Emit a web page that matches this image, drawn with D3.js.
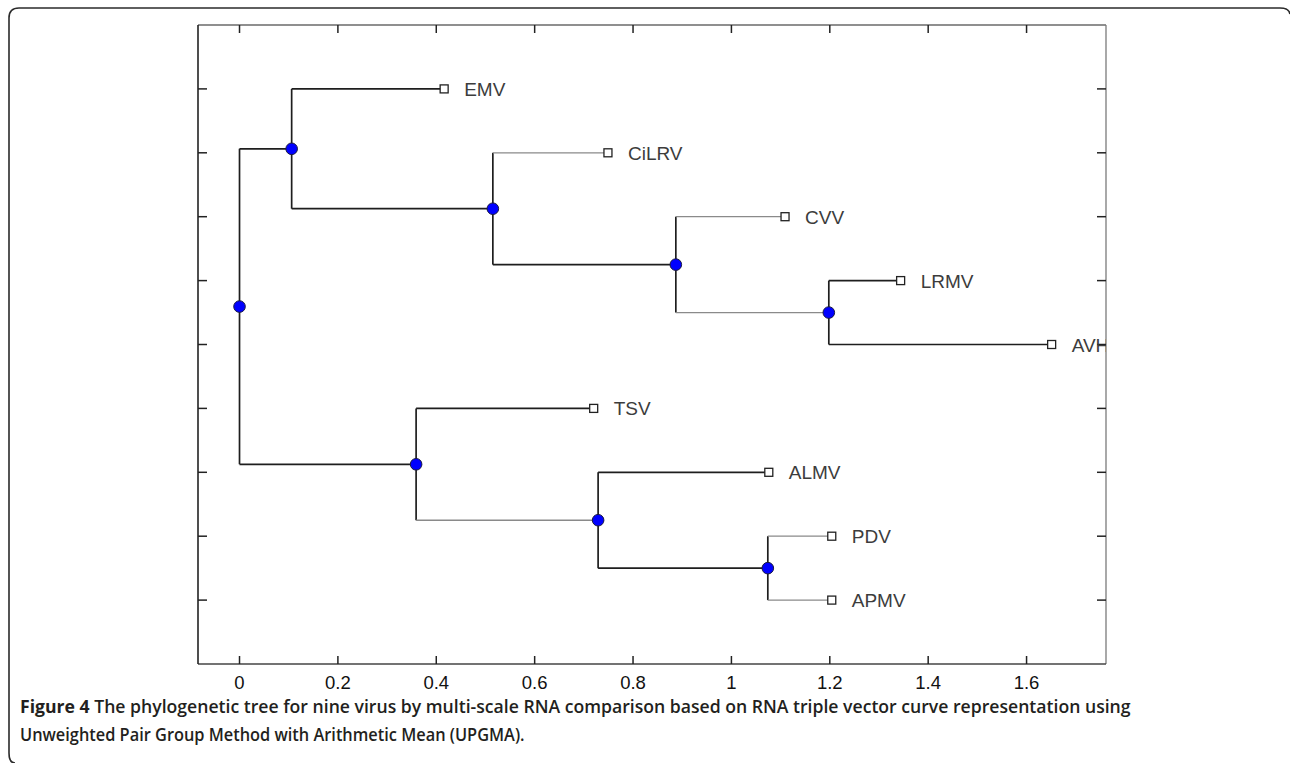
<!DOCTYPE html>
<html>
<head>
<meta charset="utf-8">
<script src="https://cdn.jsdelivr.net/npm/d3@7"></script>
<style>
  html, body { margin: 0; padding: 0; background: #fff; }
  svg { display: block; }
</style>
</head>
<body>
<svg id="fig" width="1290" height="763"></svg>
<script>
// Leaves of the UPGMA tree, listed top to bottom, with their distance from the root
const leafNames = ['EMV', 'CiLRV', 'CVV', 'LRMV', 'AVH', 'TSV', 'ALMV', 'PDV', 'APMV'];
const leafDist  = [0.416, 0.749, 1.109, 1.344, 1.651, 0.720, 1.076, 1.204, 1.204];

// Cluster merges: each joins two members at the given distance
const mergeNames = ['c1', 'c2', 'c3', 'c4', 'c5', 'c6', 'c7', 'c8'];
const mergeLeft  = ['LRMV', 'PDV', 'CVV', 'ALMV', 'CiLRV', 'TSV', 'EMV', 'c7'];
const mergeRight = ['AVH', 'APMV', 'c1', 'c2', 'c3', 'c4', 'c5', 'c6'];
const mergeDist  = [1.198, 1.074, 0.887, 0.729, 0.515, 0.359, 0.106, 0.000];

// Axis ticks
const xTicks = [0, 0.2, 0.4, 0.6, 0.8, 1, 1.2, 1.4, 1.6];
const xTickLabels = ['0', '0.2', '0.4', '0.6', '0.8', '1', '1.2', '1.4', '1.6'];
const yTicks = [1, 2, 3, 4, 5, 6, 7, 8, 9];

// Caption
const captionLead = 'Figure 4';
const captionLine1 = ' The phylogenetic tree for nine virus by multi-scale RNA comparison based on RNA triple vector curve representation using';
const captionLine2 = 'Unweighted Pair Group Method with Arithmetic Mean (UPGMA).';

const svg = d3.select('#fig');

// Plot box
const plot = { left: 198, right: 1106, top: 25, bottom: 664 };
const x = d3.scaleLinear().domain([-0.0844, 1.7615]).range([plot.left, plot.right]);
const y = d3.scaleLinear().domain([0, 10]).range([plot.top, plot.bottom]);

// Figure frame (rounded top-left box edge)
svg.append('path')
  .attr('d', 'M 15 763 Q 9 763 9 753 L 9 18 Q 9 8 19 8 L 1280 8 Q 1289 8 1290 14')
  .attr('fill', 'none')
  .attr('stroke', '#2b2b2b')
  .attr('stroke-width', 1.6);

// Positions of leaves and clusters
const pos = {};
leafNames.forEach((n, i) => { pos[n] = { d: leafDist[i], row: i + 1 }; });
mergeNames.forEach((n, i) => {
  const a = pos[mergeLeft[i]], b = pos[mergeRight[i]];
  pos[n] = { d: mergeDist[i], row: (a.row + b.row) / 2 };
});

// Branches drawn light/thin in this rendering
const faintBranches = new Set(['CiLRV', 'CVV', 'c1', 'c4', 'PDV', 'APMV']);
const darkStroke = '#1e1e1e', faintStroke = '#8a8a8a';

const gTree = svg.append('g');
mergeNames.forEach((n, i) => {
  const p = pos[n];
  const kids = [mergeLeft[i], mergeRight[i]];
  // vertical connector
  gTree.append('line')
    .attr('x1', x(p.d)).attr('x2', x(p.d))
    .attr('y1', y(pos[kids[0]].row)).attr('y2', y(pos[kids[1]].row))
    .attr('stroke', darkStroke).attr('stroke-width', 1.7);
  // horizontal branches to children
  kids.forEach(k => {
    const faint = faintBranches.has(k);
    gTree.append('line')
      .attr('x1', x(p.d)).attr('x2', x(pos[k].d))
      .attr('y1', y(pos[k].row)).attr('y2', y(pos[k].row))
      .attr('stroke', faint ? faintStroke : darkStroke)
      .attr('stroke-width', faint ? 1.3 : 1.7);
  });
});

// Plot box edges
const frame = svg.append('g').attr('fill', 'none');
frame.append('line').attr('x1', plot.left).attr('x2', plot.right).attr('y1', plot.top).attr('y2', plot.top)
  .attr('stroke', '#6a6a6a').attr('stroke-width', 1.3);
frame.append('line').attr('x1', plot.right).attr('x2', plot.right).attr('y1', plot.top).attr('y2', plot.bottom)
  .attr('stroke', '#7a7a7a').attr('stroke-width', 1.3);
frame.append('line').attr('x1', plot.left).attr('x2', plot.right).attr('y1', plot.bottom).attr('y2', plot.bottom)
  .attr('stroke', '#444').attr('stroke-width', 1.4);
frame.append('line').attr('x1', plot.left).attr('x2', plot.left).attr('y1', plot.top).attr('y2', plot.bottom)
  .attr('stroke', '#222').attr('stroke-width', 1.6);

// Ticks on all four sides (inward)
const tickLen = 8;
const ticks = svg.append('g').attr('stroke', '#222').attr('stroke-width', 1.5);
xTicks.forEach(t => {
  ticks.append('line').attr('x1', x(t)).attr('x2', x(t)).attr('y1', plot.bottom).attr('y2', plot.bottom - tickLen);
  ticks.append('line').attr('x1', x(t)).attr('x2', x(t)).attr('y1', plot.top).attr('y2', plot.top + tickLen);
});
yTicks.forEach(t => {
  ticks.append('line').attr('x1', plot.left).attr('x2', plot.left + tickLen + 1).attr('y1', y(t)).attr('y2', y(t));
  ticks.append('line').attr('x1', plot.right).attr('x2', plot.right - tickLen - 1).attr('y1', y(t)).attr('y2', y(t));
});

// Bottom tick labels
svg.append('g').selectAll('text').data(xTicks).join('text')
  .attr('x', d => x(d)).attr('y', 689)
  .attr('text-anchor', 'middle')
  .attr('font-family', '"Liberation Sans", Arial, sans-serif')
  .attr('font-size', 18.5)
  .attr('fill', '#111')
  .text((d, i) => xTickLabels[i]);

// Leaf markers and labels (labels are clipped by the plot box)
svg.append('clipPath').attr('id', 'plotClip')
  .append('rect').attr('x', plot.left).attr('y', plot.top)
  .attr('width', plot.right - plot.left).attr('height', plot.bottom - plot.top);

const gLeaf = svg.append('g');
const sq = 8;
leafNames.forEach(n => {
  const p = pos[n];
  gLeaf.append('rect')
    .attr('x', x(p.d) - sq / 2).attr('y', y(p.row) - sq / 2)
    .attr('width', sq).attr('height', sq)
    .attr('fill', '#fff').attr('stroke', '#222').attr('stroke-width', 1.3);
});
svg.append('g').attr('clip-path', 'url(#plotClip)')
  .selectAll('text').data(leafNames).join('text')
  .attr('x', n => x(pos[n].d) + 20)
  .attr('y', n => y(pos[n].row) + 7)
  .attr('font-family', '"Liberation Sans", Arial, sans-serif')
  .attr('font-size', 19)
  .attr('fill', '#3c3c3c')
  .text(n => n);

// Internal nodes
svg.append('g').selectAll('circle').data(mergeNames).join('circle')
  .attr('cx', n => x(pos[n].d))
  .attr('cy', n => y(pos[n].row))
  .attr('r', 5.8)
  .attr('fill', '#0000ff')
  .attr('stroke', '#1a1a40')
  .attr('stroke-width', 1);

// Caption, set in a slightly condensed face; each line is fitted to its width
const capFont = '"Open Sans", "Noto Sans", sans-serif';
const capSize = 18;
const capG1 = svg.append('g');
const cap1 = capG1.append('text')
  .attr('x', 0).attr('y', 713)
  .attr('font-family', capFont).attr('font-size', capSize)
  .attr('fill', '#231f20');
cap1.append('tspan').attr('font-weight', 700).text(captionLead);
cap1.append('tspan').attr('font-weight', 600).text(captionLine1);
const capG2 = svg.append('g');
const cap2 = capG2.append('text')
  .attr('x', 0).attr('y', 741)
  .attr('font-family', capFont).attr('font-size', capSize).attr('font-weight', 600)
  .attr('fill', '#231f20')
  .text(captionLine2);

capG1.attr('transform', `translate(20,0) scale(${1112 / cap1.node().getComputedTextLength()},1)`);
capG2.attr('transform', `translate(20,0) scale(${505 / cap2.node().getComputedTextLength()},1)`);
</script>
</body>
</html>
